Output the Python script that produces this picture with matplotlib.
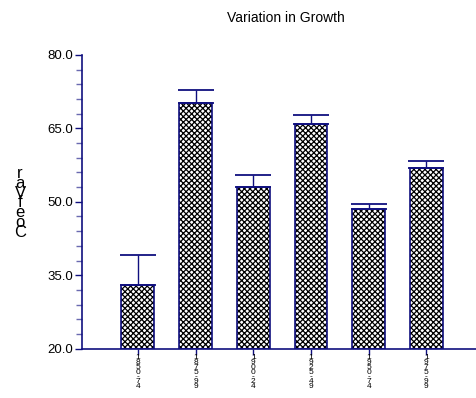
import matplotlib
matplotlib.use("Agg")
import matplotlib.pyplot as plt
from matplotlib.ticker import FixedLocator

plt.rcParams["font.family"] = ["Liberation Sans", "DejaVu Sans"]
plt.rcParams["hatch.linewidth"] = 0.9

NAVY = "#10107f"

periods = ["1850-74", "1875-99", "1900-24", "1925-49", "1950-74", "1975-99"]
coef_var = [33.1, 70.2, 53.1, 65.9, 48.5, 57.0]
err_upper = [6.0, 2.6, 2.4, 1.9, 1.1, 1.4]
y_major = [20.0, 35.0, 50.0, 65.0, 80.0]

fig = plt.figure(figsize=(4.76, 3.98), dpi=100)
ax = fig.add_axes([0.172, 0.124, 0.828, 0.738])

x = list(range(1, len(periods) + 1))
ymin = 20.0

heights = [v - ymin for v in coef_var]
# hatch layer, then navy outline
ax.bar(x, heights, width=0.57, bottom=ymin, color="white", edgecolor="black",
       hatch="xxxxxx", linewidth=0, zorder=2)
ax.bar(x, heights, width=0.57, bottom=ymin, fill=False, edgecolor=NAVY,
       linewidth=1.2, zorder=3)
ax.errorbar(x, coef_var, yerr=[[0] * len(x), err_upper], fmt="none",
            ecolor=NAVY, elinewidth=1.0, capsize=13, capthick=1.3, zorder=4)

ax.set_xlim(0.03, 6.86)
ax.set_ylim(20, 80)
ax.yaxis.set_major_locator(FixedLocator(y_major))
ax.yaxis.set_minor_locator(FixedLocator([20 + 3 * i for i in range(21)]))
ax.set_yticklabels([f"{v:.1f}" for v in y_major])

ax.spines["top"].set_visible(False)
ax.spines["right"].set_visible(False)
for s in ("left", "bottom"):
    ax.spines[s].set_color(NAVY)
    ax.spines[s].set_linewidth(1.2)

ax.tick_params(axis="y", which="major", length=5, width=1, color=NAVY,
               labelsize=9.5, pad=1)
ax.tick_params(axis="y", which="minor", length=4, width=1, color="#6a6ab0")
ax.tick_params(axis="x", length=4, width=1, color=NAVY, pad=0)

ax.set_xticks(x)
ax.set_xticklabels(["\n".join(p) for p in periods], fontsize=6,
                   linespacing=0.56, va="top")

fig.text(0.042, 0.49, "\n".join(reversed("CoefVar")), fontsize=12,
         linespacing=0.58, ha="center", va="center")
fig.text(0.6, 0.955, "Variation in Growth", fontsize=10, ha="center",
         va="center")

fig.savefig("out.png", dpi=100)
